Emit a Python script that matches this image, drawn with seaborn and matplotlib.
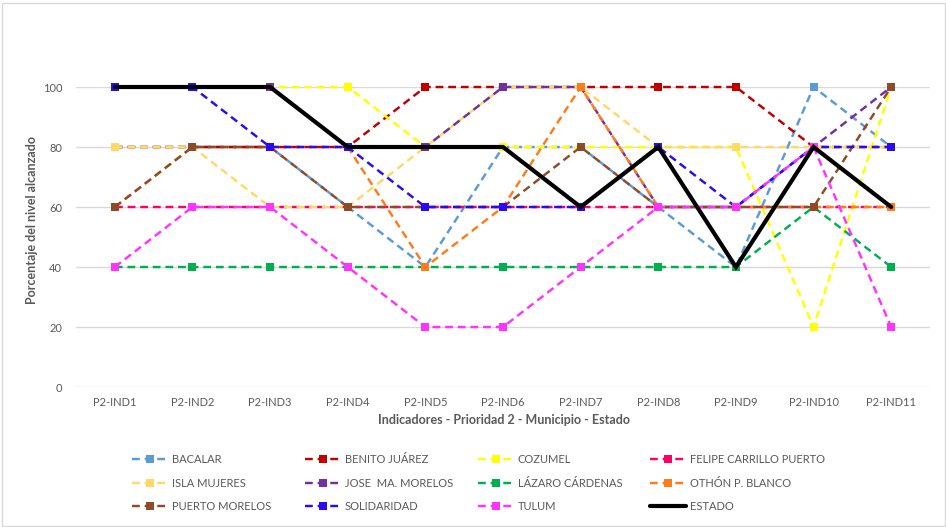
import matplotlib
matplotlib.use("Agg")
import matplotlib.pyplot as plt
import pandas as pd
import seaborn as sns
from matplotlib.patches import Rectangle

# Indicadores de la prioridad 2 (eje X)
indicadores = ["P2-IND1", "P2-IND2", "P2-IND3", "P2-IND4", "P2-IND5", "P2-IND6",
               "P2-IND7", "P2-IND8", "P2-IND9", "P2-IND10", "P2-IND11"]

# Porcentaje del nivel alcanzado por municipio
bacalar = [80, 80, 80, 60, 40, 80, 80, 60, 40, 100, 80]
benito_juarez = [80, 80, 80, 80, 100, 100, 100, 100, 100, 80, 80]
cozumel = [100, 100, 100, 100, 80, 80, 80, 80, 80, 20, 100]
felipe_carrillo_puerto = [60, 60, 60, 60, 60, 60, 60, 60, 60, 60, 60]
isla_mujeres = [80, 80, 60, 60, 80, 100, 100, 80, 80, 80, 80]
jose_ma_morelos = [100, 100, 100, 80, 80, 100, 100, 60, 60, 80, 100]
lazaro_cardenas = [40, 40, 40, 40, 40, 40, 40, 40, 40, 60, 40]
othon_p_blanco = [60, 80, 80, 80, 40, 60, 100, 60, 60, 60, 60]
puerto_morelos = [60, 80, 80, 60, 60, 60, 80, 60, 60, 60, 100]
solidaridad = [100, 100, 80, 80, 60, 60, 60, 80, 60, 80, 80]
tulum = [40, 60, 60, 40, 20, 20, 40, 60, 60, 80, 20]
estado = [100, 100, 100, 80, 80, 80, 60, 80, 40, 80, 60]

nombres = ["BACALAR", "BENITO JUÁREZ", "COZUMEL", "FELIPE CARRILLO PUERTO",
           "ISLA MUJERES", "JOSE  MA. MORELOS", "LÁZARO CÁRDENAS", "OTHÓN P. BLANCO",
           "PUERTO MORELOS", "SOLIDARIDAD", "TULUM", "ESTADO"]
valores = [bacalar, benito_juarez, cozumel, felipe_carrillo_puerto, isla_mujeres,
           jose_ma_morelos, lazaro_cardenas, othon_p_blanco, puerto_morelos,
           solidaridad, tulum, estado]
colores = ["#5B9BD5", "#C00000", "#FFFF00", "#FF0066", "#FFD966", "#7030A0",
           "#00B050", "#FF7C1A", "#8E4B2A", "#2A0BF0", "#FF33FF", "#000000"]

df = pd.DataFrame(
    [(n, ind, v) for n, serie in zip(nombres, valores) for ind, v in zip(indicadores, serie)],
    columns=["municipio", "indicador", "valor"],
)

sns.set_theme(style="white")
plt.rcParams["font.family"] = ["Lato", "DejaVu Sans"]
gris = "#595959"

fig = plt.figure(figsize=(9.46, 5.27), dpi=100)
ax = fig.add_axes([76 / 946, 1 - 387 / 527, 854 / 946, 300 / 527])

for nombre, color in zip(nombres, colores):
    sub = df[df["municipio"] == nombre]
    if nombre == "ESTADO":
        sns.lineplot(data=sub, x="indicador", y="valor", ax=ax, sort=False,
                     color=color, linewidth=3.0, label=nombre)
        ln = ax.lines[-1]
        ln.set_solid_joinstyle("miter")
    else:
        sns.lineplot(data=sub, x="indicador", y="valor", ax=ax, sort=False,
                     color=color, linewidth=1.75, marker="s", markersize=5.5,
                     markeredgewidth=0, label=nombre)
        ln = ax.lines[-1]
        ln.set_linestyle((0, (3.2, 2.0)))
    ln.set_clip_on(False)

ax.set_xlim(-0.5, 10.5)
ax.set_ylim(0, 100)
ax.set_yticks([0, 20, 40, 60, 80, 100])
ax.grid(axis="y", color="#D9D9D9", linewidth=1.0)
ax.set_axisbelow(True)
for s in ax.spines.values():
    s.set_visible(False)
ax.tick_params(axis="both", length=0, colors=gris, labelsize=8)
ax.tick_params(axis="y", pad=10)
ax.tick_params(axis="x", pad=7)
ax.set_xlabel("")
ax.set_ylabel("")
ax.get_legend().remove()

fig.text(504 / 946, 1 - 420 / 527, "Indicadores - Prioridad 2 - Municipio - Estado",
         ha="center", va="center", fontsize=9, fontweight="bold", color=gris)
fig.text(32 / 946, 1 - 220 / 527, "Porcentaje del nivel alcanzado",
         ha="center", va="center", rotation=90, fontsize=9, fontweight="bold", color=gris)

# Leyenda en cuatro columnas de ancho fijo, ordenada por filas
handles, labels = ax.get_legend_handles_labels()
col_x = [132, 305, 478, 650]
for c, x in enumerate(col_x):
    idx = [c, c + 4, c + 8]
    leg = fig.legend([handles[i] for i in idx], [labels[i] for i in idx],
                     loc="upper left", bbox_to_anchor=(x / 946, 1 - 454 / 527),
                     frameon=False, borderpad=0, borderaxespad=0, fontsize=8,
                     handlelength=3.2, handletextpad=0.4, labelspacing=1.14,
                     labelcolor=gris)

fig.add_artist(Rectangle((1.5 / 946, 1.5 / 527), 943 / 946, 523 / 527,
                         transform=fig.transFigure, fill=False,
                         edgecolor="#D9D9D9", linewidth=1.0))

fig.savefig("out.png", dpi=100)
